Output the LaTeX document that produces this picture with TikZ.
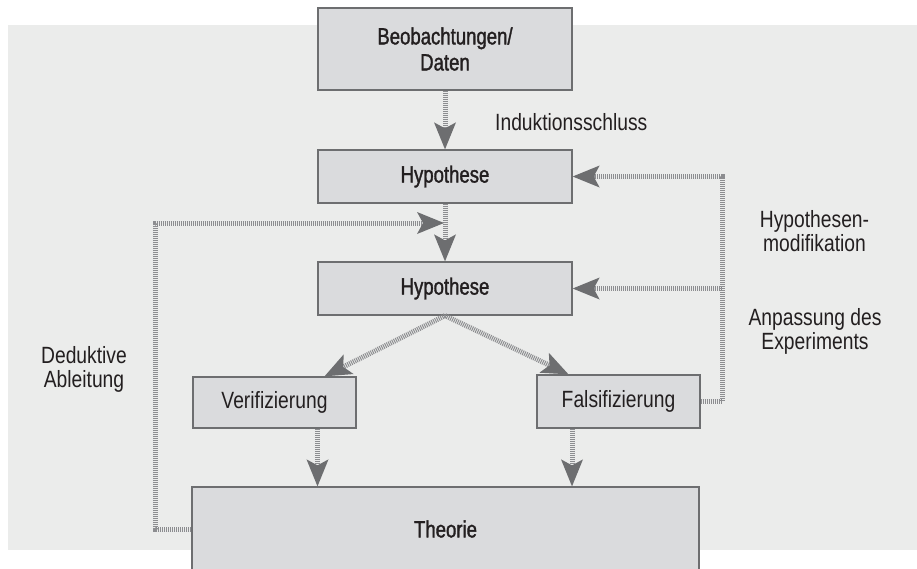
\documentclass[tikz,border=0pt]{standalone}
\usepackage{fontspec}
\setmainfont{Liberation Sans}[FakeStretch=0.82]
\newfontfamily\stagefont{Liberation Sans}[FakeStretch=0.79,FakeBold=1.4]
\usetikzlibrary{arrows.meta}

\definecolor{panel}{HTML}{EBECEB}
\definecolor{boxfill}{HTML}{DADBDD}
\definecolor{boxline}{HTML}{6D6E70}
\definecolor{flow}{HTML}{8C8D90}
\definecolor{tipcol}{HTML}{6D6E70}
\definecolor{ink}{HTML}{231F20}

\tikzset{
  stage/.style={draw=boxline, line width=1.3pt, fill=boxfill, text=ink,
    inner sep=0pt, align=center, font=\stagefont\fontsize{23.5}{26}\selectfont},
  outcome/.style={stage, font=\fontsize{23.5}{26}\selectfont},
  note/.style={text=ink, align=center, inner sep=0pt,
    font=\fontsize{23.5}{24}\selectfont},
  flowplain/.style={draw=flow, line width=5pt, dash pattern=on 1pt off 1pt},
  flowline/.style={flowplain,
    -{Stealth[length=27pt, width=22pt, inset=6pt, line width=0pt, color=tipcol]}},
}

\begin{document}
\begin{tikzpicture}[x=1pt, y=-1pt]
  \clip (0,0) rectangle (917,568);
  % light panel behind the scheme
  \fill[panel] (8,25) rectangle (917,550);

  % boxes
  \node[stage, minimum width=254pt, minimum height=82pt] (obs) at (445,49) {Beobachtungen/\\Daten};
  \node[stage, minimum width=254pt, minimum height=53pt] (hyp1) at (445,176.5) {Hypothese};
  \node[stage, minimum width=254pt, minimum height=53pt] (hyp2) at (445,288.5) {Hypothese};
  \node[outcome, minimum width=163pt, minimum height=51pt] (ver) at (274.5,402.5) {Verifizierung};
  \node[outcome, minimum width=163pt, minimum height=53pt] (fal) at (618.5,401.5) {Falsifizierung};
  \node[stage, minimum width=507pt, minimum height=84pt] (theo) at (445.5,529) {Theorie};

  % helper points for the feedback loops
  \coordinate (merge) at (444,223);
  \coordinate (leftrail) at (155,0);
  \coordinate (rail) at (722,0);

  % main flow
  \draw[flowline] (obs.south) -- (hyp1.north);
  \draw[flowline] (hyp1.south) -- (hyp2.north);
  \draw[flowline] (hyp2.south) -- ([xshift=50pt]ver.north);
  \draw[flowline] (hyp2.south) -- ([xshift=-50pt]fal.north);
  \draw[flowline] ([xshift=43pt]ver.south) -- ([xshift=43pt]ver.south |- theo.north);
  \draw[flowline] ([xshift=-46.5pt]fal.south) -- ([xshift=-46.5pt]fal.south |- theo.north);

  % deductive loop back from the theory
  \draw[flowline] (theo.west) -- (leftrail |- theo.west) -- (leftrail |- merge) -- (merge);

  % modification loop from the falsification
  \draw[flowline] (fal.east) -- (rail |- fal.east) -- (rail |- hyp1.east) -- (hyp1.east);
  \draw[flowline] (rail |- hyp2.east) -- (hyp2.east);

  % labels
  \node[note, anchor=base west] (lind) at (495,130) {Induktionsschluss};
  \node[note, anchor=north] (lmod) at (814.5,210) {Hypothesen-\\modifikation};
  \node[note, anchor=north] (lexp) at (815,308) {Anpassung des\\Experiments};
  \node[note, anchor=north] (lded) at (84,346) {Deduktive\\Ableitung};
\end{tikzpicture}
\end{document}
